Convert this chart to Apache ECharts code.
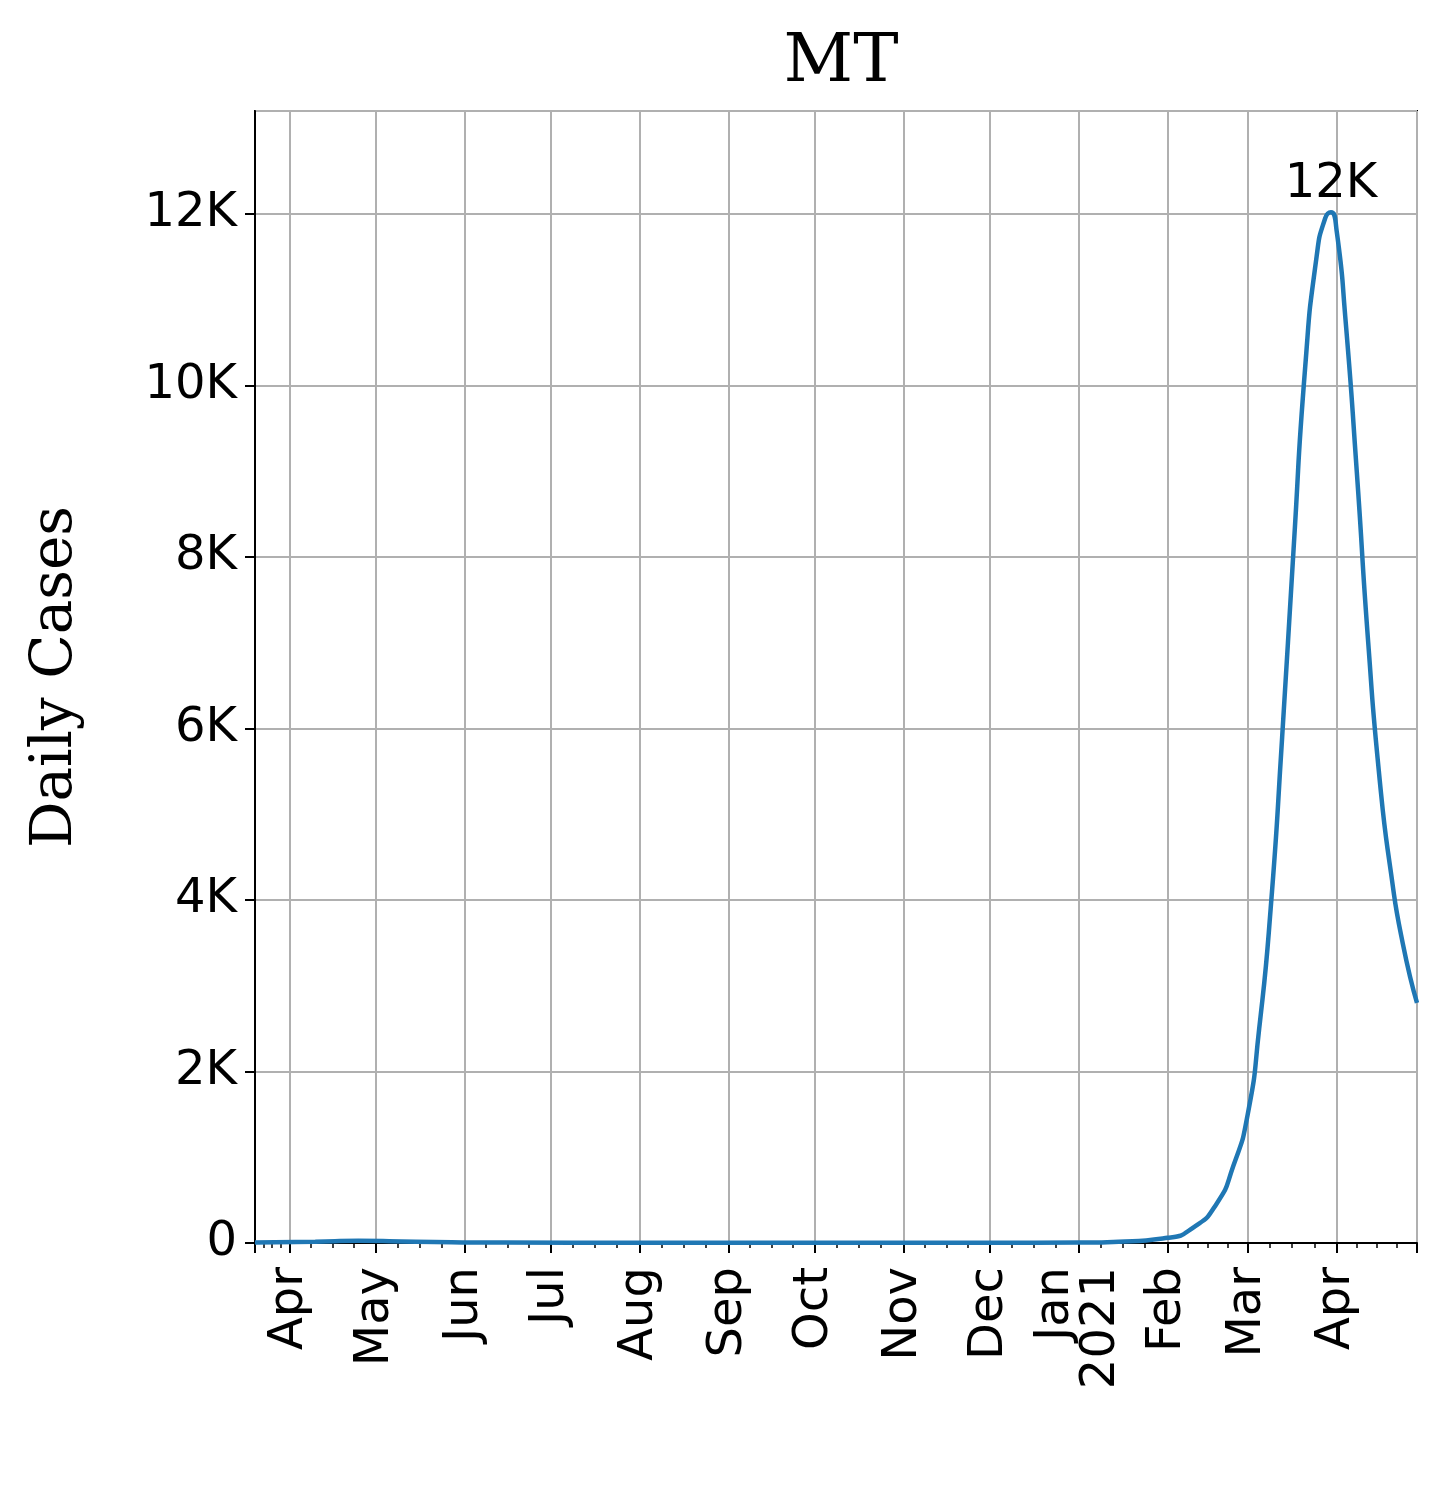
<!DOCTYPE html>
<html>
<head>
<meta charset="utf-8" />
<title>MT</title>
<script src="https://cdn.jsdelivr.net/npm/echarts@6.0.0/dist/echarts.min.js"></script>
</head>
<body style="margin:0;background:#fff">
<div id="main" style="width:1450px;height:1508px;"></div>
<script type="text/javascript">
// daily cases
var dates = ['2020-03-20','2020-04-10','2020-04-25','2020-05-15','2020-06-15','2020-08-01','2020-10-01','2020-12-01',
    '2021-01-01','2021-01-15','2021-02-01','2021-02-10','2021-02-18','2021-02-24','2021-03-01','2021-03-05','2021-03-09',
    '2021-03-13','2021-03-17','2021-03-21','2021-03-25','2021-03-28','2021-03-30','2021-04-01','2021-04-04',
    '2021-04-08','2021-04-12','2021-04-16','2021-04-20','2021-04-24','2021-04-29'];
var cases = [5, 15, 25, 15, 5, 3, 3, 3,
    5, 15, 60, 180, 450, 900, 1500, 2500, 3900,
    5900, 8100, 10200, 11500, 11950, 12020, 11800, 10800,
    9000, 7000, 5400, 4300, 3500, 2800];
var peakDate = '2021-03-30';
var peakValue = 12020;
var monthNames = ['Jan','Feb','Mar','Apr','May','Jun','Jul','Aug','Sep','Oct','Nov','Dec'];

var myChart = echarts.init(document.getElementById('main'));
var option = {
    animation: false,
    title: {
        text: 'MT', left: 836, top: 24, textAlign: 'center',
        textStyle: { fontFamily: 'DejaVu Serif', fontSize: 68, fontWeight: 'normal', color: '#000' }
    },
    grid: { left: 255, right: 33, top: 111, bottom: 265, show: true, borderColor: '#000', borderWidth: 2 },
    xAxis: {
        type: 'time',
        min: '2020-03-20', max: '2021-04-29',
        minInterval: 28 * 86400000, maxInterval: 31 * 86400000,
        axisLine: { show: true, lineStyle: { color: '#000', width: 2 } },
        axisTick: { show: true, length: 10, lineStyle: { color: '#000', width: 2 } },
        minorTick: { show: true, splitNumber: 4, length: 5, lineStyle: { color: '#000', width: 1.5 } },
        splitLine: { show: true, lineStyle: { color: '#b0b0b0', width: 2 } },
        axisLabel: {
            rotate: 90, fontSize: 48, color: '#000', fontFamily: 'DejaVu Sans', margin: 24,
            formatter: function (v) {
                var d = new Date(v);
                var m = d.getMonth();
                return m === 0 ? 'Jan\n' + d.getFullYear() : monthNames[m];
            },
            lineHeight: 46
        }
    },
    yAxis: {
        type: 'value', min: 0, max: 13200, interval: 2000,
        name: 'Daily Cases', nameLocation: 'middle', nameGap: 170,
        nameTextStyle: { fontFamily: 'DejaVu Serif', fontSize: 58, color: '#000' },
        axisLine: { show: true, lineStyle: { color: '#000', width: 2 } },
        axisTick: { show: true, length: 10, lineStyle: { color: '#000', width: 2 } },
        splitLine: { show: true, lineStyle: { color: '#b0b0b0', width: 2 } },
        axisLabel: {
            fontSize: 48, color: '#000', fontFamily: 'DejaVu Sans', margin: 18, showMaxLabel: false,
            formatter: function (v) { return v === 0 ? '0' : (v / 1000) + 'K'; }
        }
    },
    series: [{
        type: 'line', smooth: 0.6, symbol: 'none',
        lineStyle: { color: '#1f77b4', width: 4.5 },
        data: dates.map(function (d, i) { return [d, cases[i]]; }),
        markPoint: {
            symbol: 'circle', symbolSize: 0,
            label: {
                show: true, position: 'top', distance: 4, fontSize: 48, color: '#000',
                fontFamily: 'DejaVu Sans', formatter: '12K'
            },
            data: [{ coord: [peakDate, peakValue] }]
        }
    }]
};
myChart.setOption(option);
</script>
</body>
</html>
